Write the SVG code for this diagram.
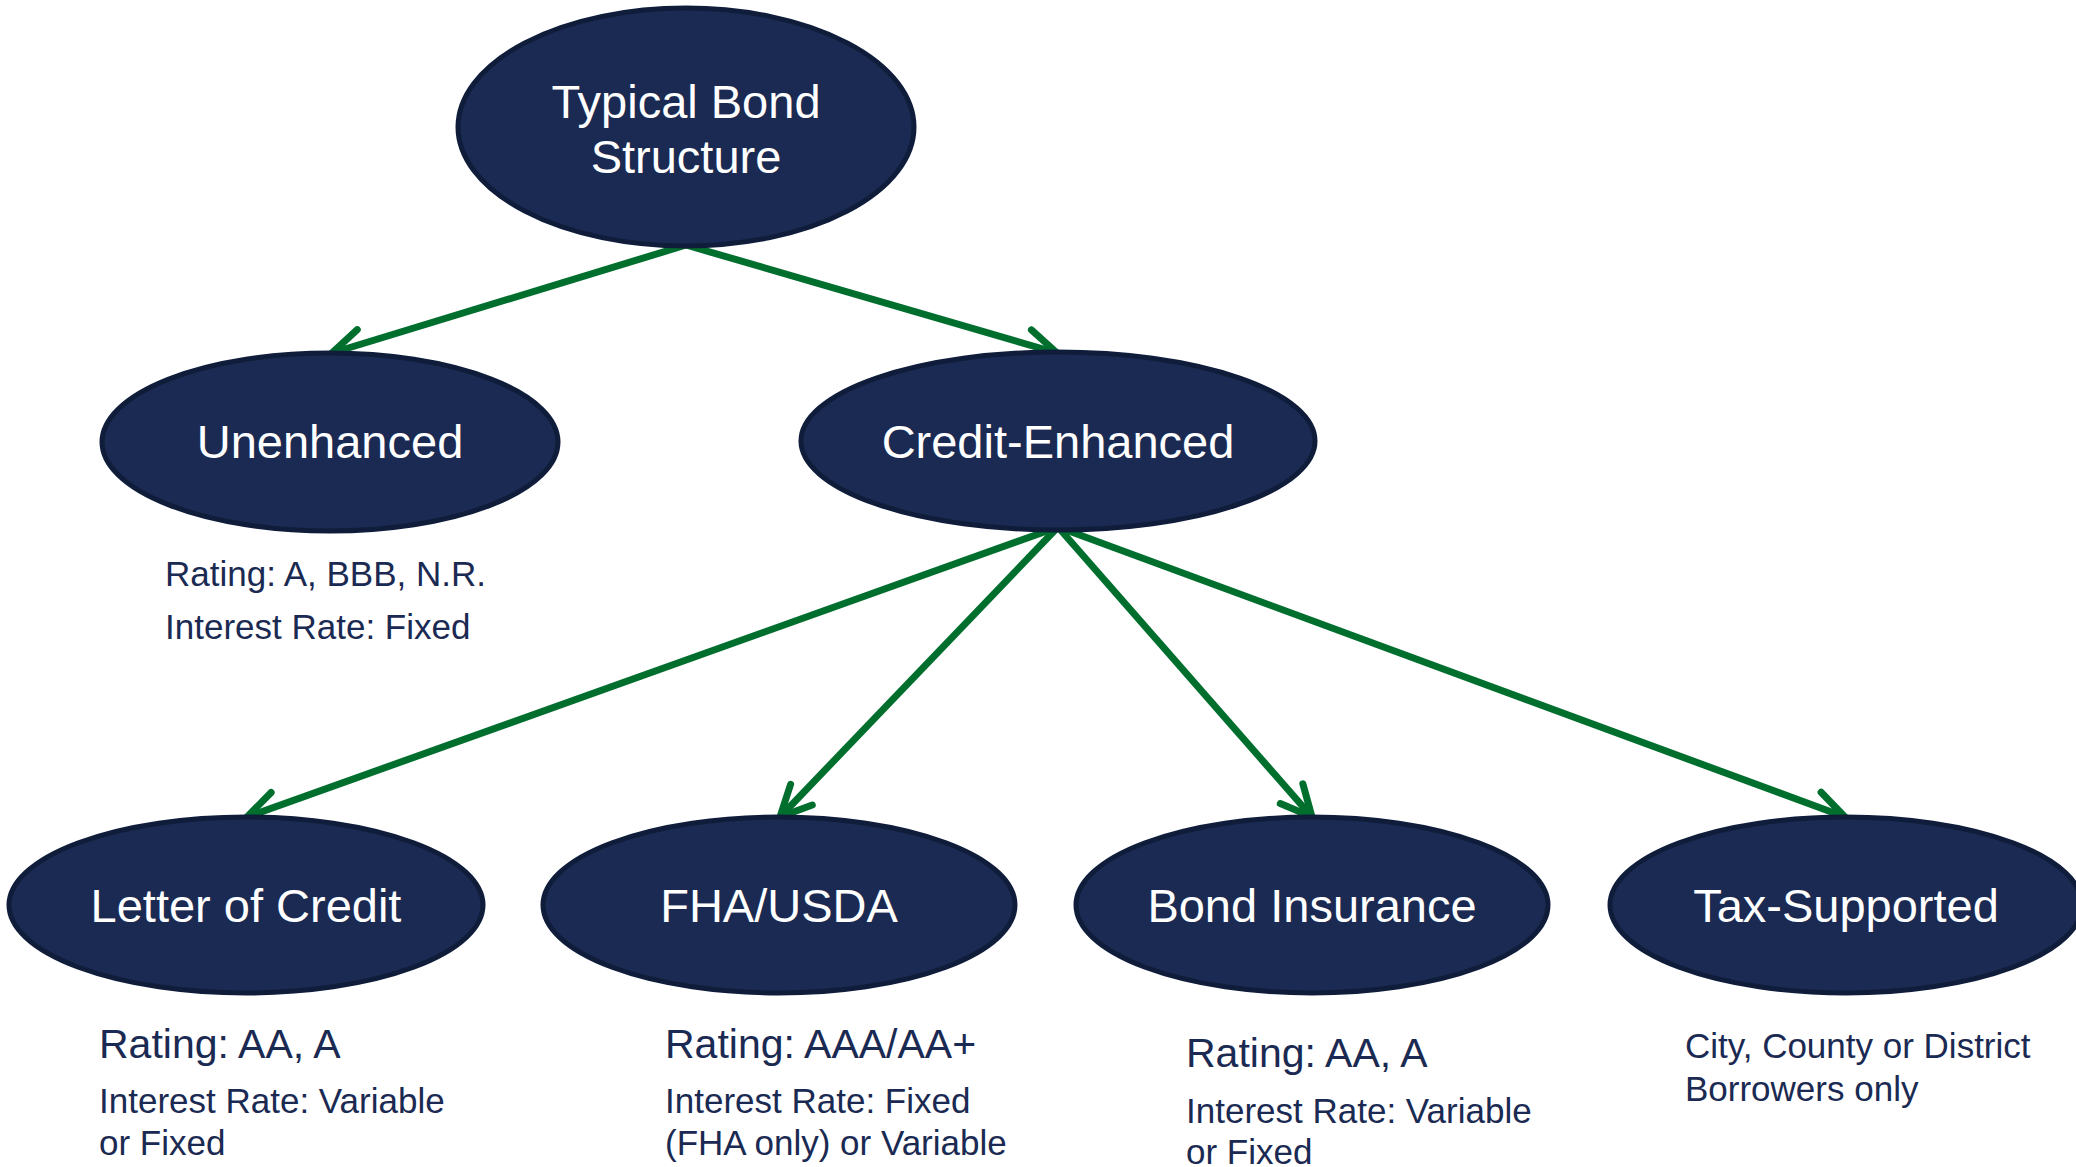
<svg xmlns="http://www.w3.org/2000/svg" width="2076" height="1167" viewBox="0 0 2076 1167">
  <style>
    .node ellipse { fill: #1b2a52; stroke: #0f1d3b; stroke-width: 5; }
    .label { font-family: "Liberation Sans", Arial, sans-serif; font-size: 47px; fill: #ffffff; text-anchor: middle; }
    .note { font-family: "Liberation Sans", Arial, sans-serif; font-size: 35px; fill: #1b2a52; }
    .note-lg { font-size: 41px; }
    .edge { stroke: #006f2d; stroke-width: 7; fill: none; marker-end: url(#arrow); }
  </style>
  <defs>
    <marker id="arrow" markerUnits="userSpaceOnUse" orient="auto" refX="0" refY="0" markerWidth="60" markerHeight="60" viewBox="-40 -30 60 60" overflow="visible">
      <path d="M -31 -15 L 0 0 L -31 15" fill="none" stroke="#006f2d" stroke-width="7" stroke-linecap="round" stroke-linejoin="miter"/>
    </marker>
  </defs>
  <rect width="2076" height="1167" fill="#ffffff"/>

  <!-- connectors -->
  <g id="connectors">
    <line class="edge" x1="686" y1="245" x2="332" y2="353"/>
    <line class="edge" x1="686" y1="245" x2="1057" y2="353"/>
    <line class="edge" x1="1058" y1="527" x2="247" y2="817"/>
    <line class="edge" x1="1058" y1="527" x2="780" y2="817"/>
    <line class="edge" x1="1058" y1="527" x2="1312" y2="817"/>
    <line class="edge" x1="1058" y1="527" x2="1845" y2="817"/>
  </g>

  <!-- root -->
  <g id="typical-bond-structure" class="node">
    <ellipse cx="686" cy="127" rx="228" ry="119"/>
    <text class="label" x="686" y="118">Typical Bond</text>
    <text class="label" x="686" y="173">Structure</text>
  </g>

  <!-- second level -->
  <g id="unenhanced" class="node">
    <ellipse cx="330" cy="442" rx="228" ry="89"/>
    <text class="label" x="330" y="458">Unenhanced</text>
  </g>
  <g id="unenhanced-notes">
    <text class="note" x="165" y="586">Rating: A, BBB, N.R.</text>
    <text class="note" x="165" y="639">Interest Rate: Fixed</text>
  </g>

  <g id="credit-enhanced" class="node">
    <ellipse cx="1058" cy="441" rx="257" ry="89"/>
    <text class="label" x="1058" y="458">Credit-Enhanced</text>
  </g>

  <!-- third level -->
  <g id="letter-of-credit" class="node">
    <ellipse cx="246" cy="905" rx="237" ry="88"/>
    <text class="label" x="246" y="922">Letter of Credit</text>
  </g>
  <g id="letter-of-credit-notes">
    <text class="note note-lg" x="99" y="1058">Rating: AA, A</text>
    <text class="note" x="99" y="1113">Interest Rate: Variable</text>
    <text class="note" x="99" y="1155">or Fixed</text>
  </g>

  <g id="fha-usda" class="node">
    <ellipse cx="779" cy="905" rx="236" ry="88"/>
    <text class="label" x="779" y="922">FHA/USDA</text>
  </g>
  <g id="fha-usda-notes">
    <text class="note note-lg" x="665" y="1058">Rating: AAA/AA+</text>
    <text class="note" x="665" y="1113">Interest Rate: Fixed</text>
    <text class="note" x="665" y="1155">(FHA only) or Variable</text>
  </g>

  <g id="bond-insurance" class="node">
    <ellipse cx="1312" cy="905" rx="236" ry="88"/>
    <text class="label" x="1312" y="922">Bond Insurance</text>
  </g>
  <g id="bond-insurance-notes">
    <text class="note note-lg" x="1186" y="1067">Rating: AA, A</text>
    <text class="note" x="1186" y="1123">Interest Rate: Variable</text>
    <text class="note" x="1186" y="1164">or Fixed</text>
  </g>

  <g id="tax-supported" class="node">
    <ellipse cx="1846" cy="905" rx="236" ry="88"/>
    <text class="label" x="1846" y="922">Tax-Supported</text>
  </g>
  <g id="tax-supported-notes">
    <text class="note" x="1685" y="1058">City, County or District</text>
    <text class="note" x="1685" y="1101">Borrowers only</text>
  </g>
</svg>
